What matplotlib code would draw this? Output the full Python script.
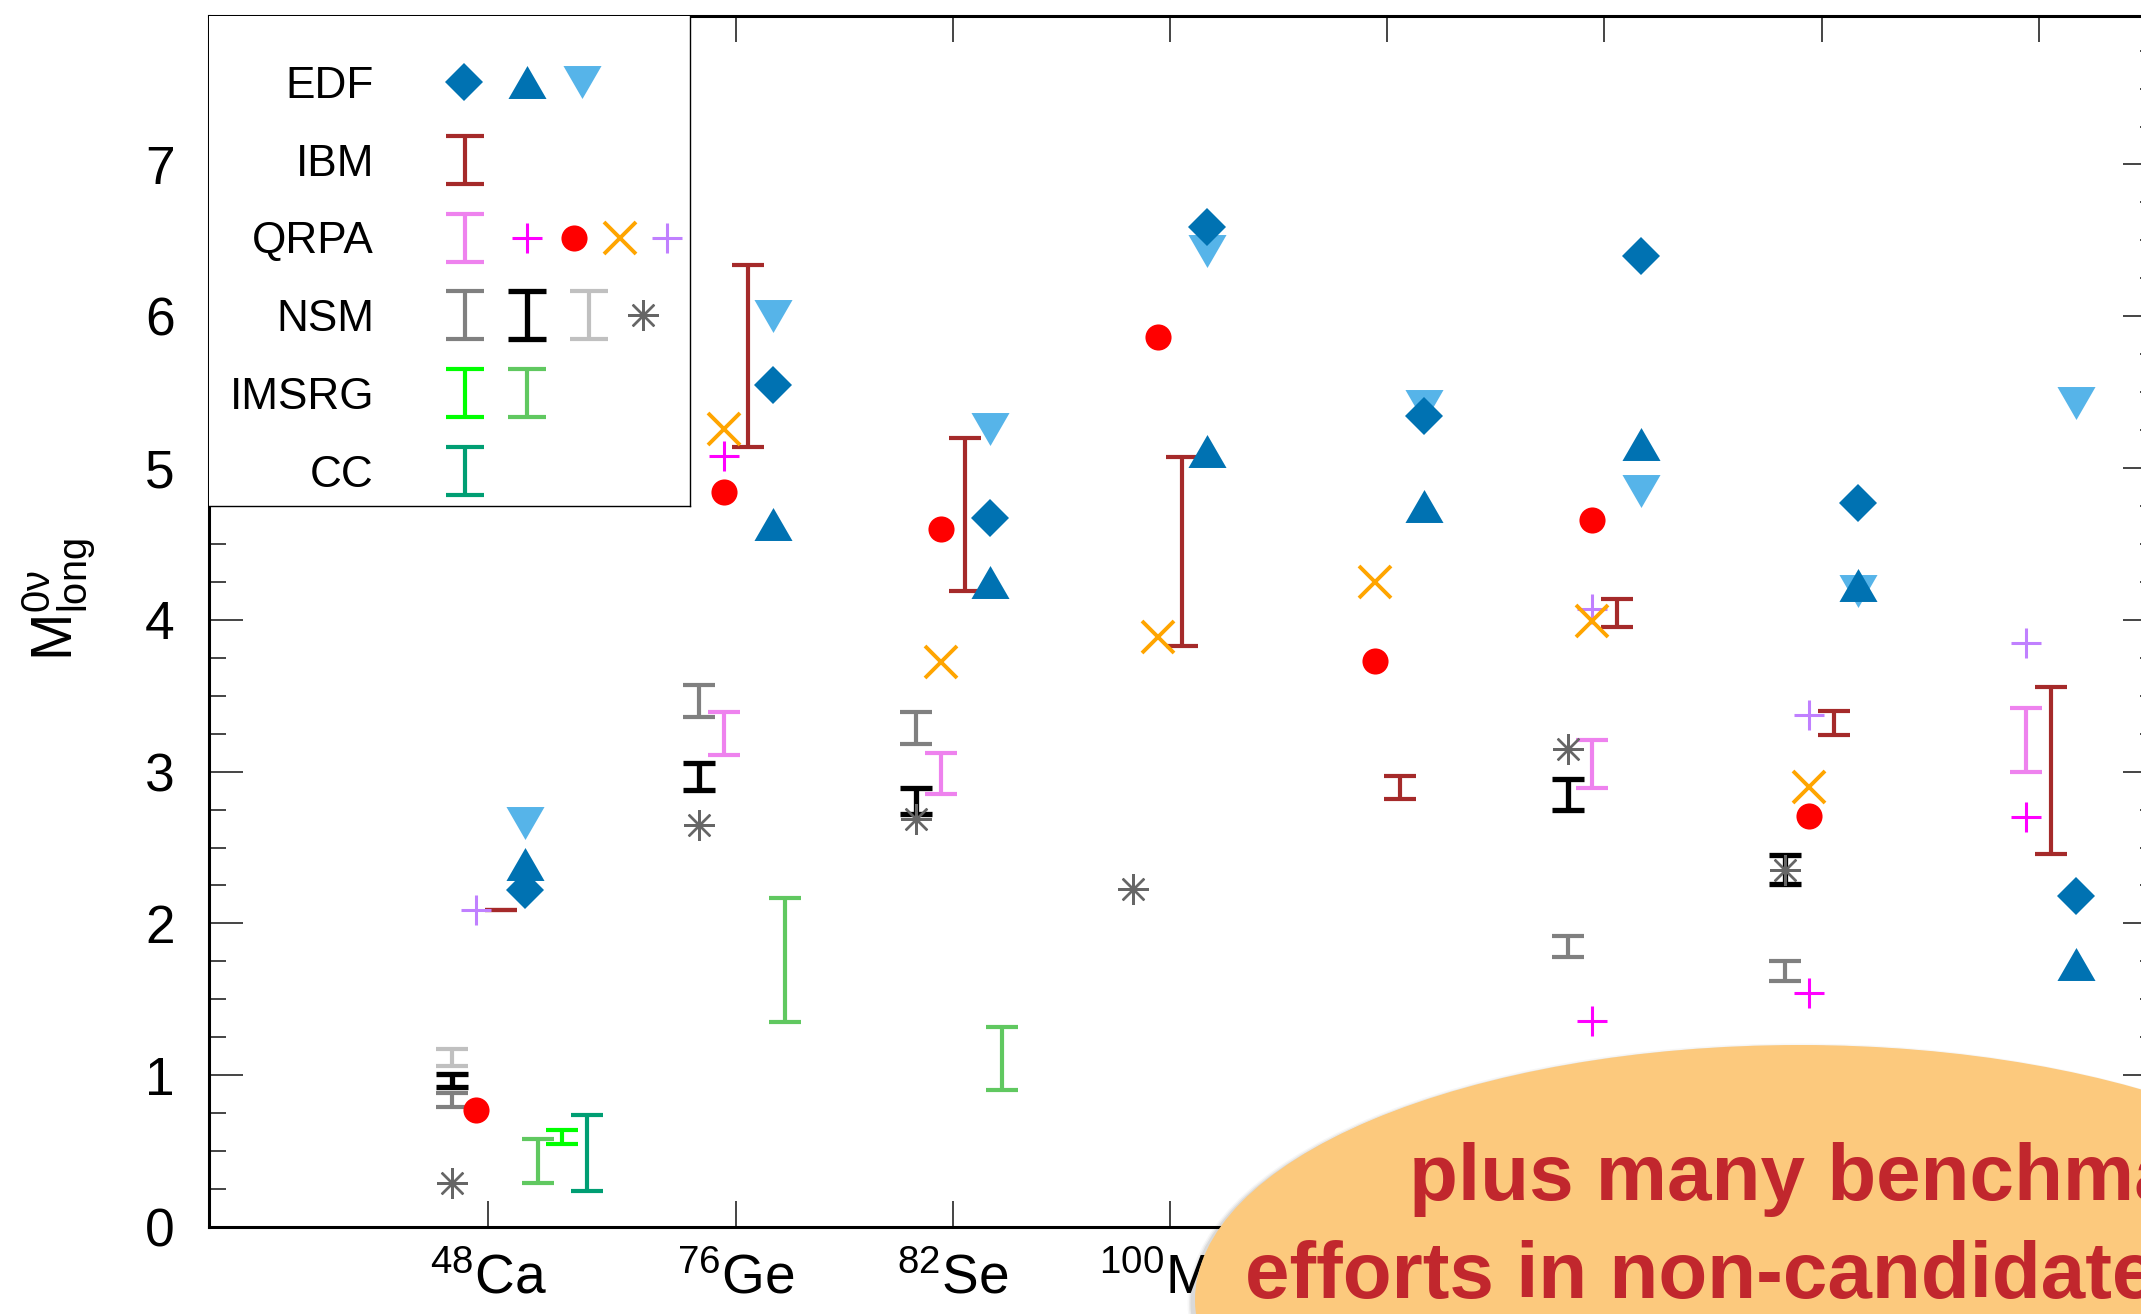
import matplotlib

matplotlib.use("Agg")
import matplotlib.pyplot as plt
import numpy as np
from matplotlib import font_manager
from matplotlib.patches import Ellipse
from matplotlib.ticker import MultipleLocator

nan = np.nan

# isotopes on the x axis
MASS_NUMBERS = ["48", "76", "82", "100", "116", "130", "136", "150"]
ELEMENTS = ["Ca", "Ge", "Se", "Mo", "Cd", "Te", "Xe", "Nd"]

# EDF (three variants)
EDF_DIAMOND = [2.22, 5.55, 4.67, 6.59, 5.34, 6.40, 4.77, 2.18]
EDF_UP = [2.39, 4.63, 4.25, 5.11, 4.75, 5.16, 4.23, 1.73]
EDF_DOWN = [2.66, 6.00, 5.26, 6.43, 5.41, 4.85, 4.19, 5.43]

# IBM ranges
IBM_LO = [2.09, 5.14, 4.19, 3.83, 2.82, 3.95, 3.24, 2.46]
IBM_HI = [2.09, 6.34, 5.20, 5.07, 2.97, 4.14, 3.40, 3.56]

# QRPA
QRPA_LO = [nan, 3.11, 2.85, nan, nan, 2.89, 0.95, 3.00]
QRPA_HI = [nan, 3.39, 3.12, nan, nan, 3.21, 1.18, 3.42]
QRPA_PLUS = [nan, 5.08, nan, nan, nan, 1.36, 1.54, 2.70]
QRPA_DOT = [0.77, 4.84, 4.60, 5.86, 3.73, 4.66, 2.71, nan]
QRPA_CROSS = [nan, 5.26, 3.72, 3.89, 4.25, 3.99, 2.90, nan]
QRPA_PLUS2 = [2.09, nan, nan, nan, nan, 4.07, 3.37, 3.85]

# NSM
NSM_GRAY_LO = [0.79, 3.36, 3.18, nan, nan, 1.78, 1.62, nan]
NSM_GRAY_HI = [0.88, 3.57, 3.39, nan, nan, 1.92, 1.75, nan]
NSM_BLACK_LO = [0.92, 2.88, 2.72, nan, nan, 2.75, 2.26, nan]
NSM_BLACK_HI = [1.01, 3.06, 2.89, nan, nan, 2.95, 2.45, nan]
NSM_LIGHT_LO = [1.06, nan, nan, nan, nan, nan, nan, nan]
NSM_LIGHT_HI = [1.17, nan, nan, nan, nan, nan, nan, nan]
NSM_STAR = [0.29, 2.65, 2.69, 2.23, nan, 3.15, 2.35, nan]

# IMSRG and CC
IMSRG_A_LO = [0.55, nan, nan, nan, nan, nan, nan, nan]
IMSRG_A_HI = [0.64, nan, nan, nan, nan, nan, nan, nan]
IMSRG_B_LO = [0.29, 1.35, 0.90, nan, nan, nan, nan, nan]
IMSRG_B_HI = [0.58, 2.17, 1.32, nan, nan, nan, nan, nan]
CC_LO = [0.24, nan, nan, nan, nan, nan, nan, nan]
CC_HI = [0.74, nan, nan, nan, nan, nan, nan, nan]

# layout
ISO_X = np.array([0.86, 2, 3, 4, 5, 6, 7, 8])
STEP = 0.0566
W, H, DPI = 2141, 1314, 200

EDF_DARK = "#0072b2"
EDF_LIGHT = "#56b4e9"
IBM_C = "#a52a2a"
QRPA_BAR_C = "#ee82ee"
MAGENTA = "#ff00ff"
RED = "#ff0000"
ORANGE = "#ffa500"
PURPLE = "#c080ff"
NSM_GRAY = "#808080"
NSM_LIGHT = "#c0c0c0"
STAR_C = "#666666"
IMSRG_A_C = "#00ff00"
IMSRG_B_C = "#60c860"
CC_C = "#009e73"

TRI_UP = [(0, 0.433), (-0.5, -0.433), (0.5, -0.433)]
TRI_DOWN = [(0, -0.433), (-0.5, 0.433), (0.5, 0.433)]
STAR = (8, 2, 0)

names = {f.name for f in font_manager.fontManager.ttflist}
BASE_FONT = "Liberation Sans" if "Liberation Sans" in names else "DejaVu Sans"
plt.rcParams["font.family"] = [BASE_FONT, "DejaVu Sans"]
plt.rcParams["mathtext.fontset"] = "custom"
plt.rcParams["mathtext.rm"] = BASE_FONT
plt.rcParams["mathtext.it"] = BASE_FONT + ":italic"
plt.rcParams["mathtext.bf"] = BASE_FONT + ":bold"


def draw_range(ax, slot, lo, hi, color, lw=1.5, capsize=5.8, zorder=3):
    lo = np.asarray(lo, dtype=float)
    hi = np.asarray(hi, dtype=float)
    keep = ~np.isnan(lo)
    x = ISO_X[keep] + slot * STEP
    mid = 0.5 * (lo[keep] + hi[keep])
    err = 0.5 * (hi[keep] - lo[keep])
    ax.errorbar(x, mid, yerr=err, fmt="none", ecolor=color, elinewidth=lw,
                capsize=capsize, capthick=lw, zorder=zorder)


def draw_points(ax, slot, vals, marker, color, ms, mew=0.0, zorder=4):
    vals = np.asarray(vals, dtype=float)
    keep = ~np.isnan(vals)
    x = ISO_X[keep] + slot * STEP
    ax.plot(x, vals[keep], linestyle="none", marker=marker, ms=ms, color=color,
            mew=mew, zorder=zorder)


fig = plt.figure(figsize=(W / DPI, H / DPI), dpi=DPI)
ax = fig.add_axes([209 / W, 87 / H, (2157 - 209) / W, (1227 - 15.7) / H])
ax.set_xlim(-0.427, 8.545)
ax.set_ylim(0, 7.98)

# NSM (slot -3)
draw_range(ax, -3, NSM_GRAY_LO, NSM_GRAY_HI, NSM_GRAY)
draw_range(ax, -3, NSM_LIGHT_LO, NSM_LIGHT_HI, NSM_LIGHT)
draw_range(ax, -3, NSM_BLACK_LO, NSM_BLACK_HI, "black", lw=1.9)
draw_points(ax, -3, NSM_STAR, STAR, STAR_C, 11.0, mew=0.85, zorder=5)

# QRPA (slot -1)
draw_range(ax, -1, QRPA_LO, QRPA_HI, QRPA_BAR_C)
draw_points(ax, -1, QRPA_DOT, "o", RED, 9.4)
draw_points(ax, -1, QRPA_PLUS, "+", MAGENTA, 10.8, mew=1.1)
draw_points(ax, -1, QRPA_PLUS2, "+", PURPLE, 10.8, mew=1.1)
draw_points(ax, -1, QRPA_CROSS, "x", ORANGE, 11.5, mew=1.4)

# IBM (slot +1)
draw_range(ax, 1, IBM_LO, IBM_HI, IBM_C)

# EDF (slot +3)
draw_points(ax, 3, EDF_DOWN, TRI_DOWN, EDF_LIGHT, 13.7)
draw_points(ax, 3, EDF_DIAMOND, "D", EDF_DARK, 9.7)
draw_points(ax, 3, EDF_UP, TRI_UP, EDF_DARK, 13.7)

# IMSRG and CC
draw_range(ax, 4, IMSRG_B_LO, IMSRG_B_HI, IMSRG_B_C)
draw_range(ax, 6, IMSRG_A_LO, IMSRG_A_HI, IMSRG_A_C)
draw_range(ax, 8, CC_LO, CC_HI, CC_C)

ax.set_xticks(ISO_X)
ax.set_xticklabels([rf"$^{{{m}}}$" + e for m, e in zip(MASS_NUMBERS, ELEMENTS)])
ax.yaxis.set_major_locator(MultipleLocator(1))
ax.yaxis.set_minor_locator(MultipleLocator(0.25))
ax.tick_params(axis="x", which="both", direction="in", length=9.4, width=0.7,
               color="#444444", top=True, pad=9.5, labelsize=19.8)
ax.tick_params(axis="y", which="major", direction="in", length=12.4, width=0.7,
               color="#444444", right=True, pad=12.4, labelsize=19.2)
ax.tick_params(axis="y", which="minor", direction="in", length=6.2, width=0.7,
               color="#444444", right=True)
for spine in ax.spines.values():
    spine.set_linewidth(1.1)

fig.text(59 / W, 1 - 600 / H, r"$\mathrm{M^{0\nu}_{long}}$", rotation=90,
         fontsize=20.5, ha="center", va="center")

# legend box, drawn in pixel coordinates
LEG_X0, LEG_X1, LEG_Y0, LEG_Y1 = 209, 690, 16, 505.5
leg = fig.add_axes([LEG_X0 / W, 1 - LEG_Y1 / H, (LEG_X1 - LEG_X0) / W, (LEG_Y1 - LEG_Y0) / H],
                   zorder=5)
leg.set_xlim(LEG_X0, LEG_X1)
leg.set_ylim(LEG_Y1, LEG_Y0)
leg.set_xticks([])
leg.set_yticks([])
for side, spine in leg.spines.items():
    spine.set_linewidth(0.5)
    spine.set_visible(side in ("right", "bottom"))

ROW_Y0, ROW_STEP = 82, 77.8
BAR_HALF = 24


def leg_bar(x, y, color, lw=1.5):
    leg.errorbar([x], [y], yerr=[BAR_HALF], fmt="none", ecolor=color, elinewidth=lw,
                 capsize=6.8, capthick=lw)


def leg_pt(x, y, marker, color, ms, mew=0.0):
    leg.plot([x], [y], linestyle="none", marker=marker, ms=ms, color=color, mew=mew)


legend_rows = [
    ("EDF", [("pt", 464, "D", EDF_DARK, 9.7, 0), ("pt", 527, TRI_UP, EDF_DARK, 13.7, 0),
             ("pt", 582, TRI_DOWN, EDF_LIGHT, 13.7, 0)]),
    ("IBM", [("bar", 465, IBM_C, 1.5)]),
    ("QRPA", [("bar", 465, QRPA_BAR_C, 1.5), ("pt", 527, "+", MAGENTA, 10.8, 1.1),
              ("pt", 574, "o", RED, 9.4, 0), ("pt", 620, "x", ORANGE, 11.5, 1.4),
              ("pt", 667, "+", PURPLE, 10.8, 1.1)]),
    ("NSM", [("bar", 465, NSM_GRAY, 1.5), ("bar", 527, "black", 1.9),
             ("bar", 589, NSM_LIGHT, 1.5), ("pt", 643, STAR, STAR_C, 11.0, 0.85)]),
    ("IMSRG", [("bar", 465, IMSRG_A_C, 1.5), ("bar", 527, IMSRG_B_C, 1.5)]),
    ("CC", [("bar", 465, CC_C, 1.5)]),
]

for i, (label, items) in enumerate(legend_rows):
    y = ROW_Y0 + i * ROW_STEP
    leg.text(374, y + 15.8, label, fontsize=15.9, ha="right", va="baseline")
    for item in items:
        if item[0] == "bar":
            leg_bar(item[1], y, item[2], item[3])
        else:
            leg_pt(item[1], y, item[2], item[3], item[4], item[5])

# highlighted note in the lower right corner, with a soft shadow
for k, alpha in enumerate([0.03, 0.05, 0.07]):
    grow = (3 - k) * 3
    fig.add_artist(Ellipse(((1800 - 3) / W, 1 - (1300 + 3) / H), width=(1210 + grow) / W,
                           height=(510 + grow) / H, transform=fig.transFigure,
                           facecolor="black", edgecolor="none", alpha=alpha, zorder=9))
fig.add_artist(Ellipse((1800 / W, 1 - 1300 / H), width=1210 / W, height=510 / H,
                       transform=fig.transFigure, facecolor="#fcc97d", edgecolor="none",
                       zorder=10))
NOTE_C = "#c1272d"
fig.text(1409 / W, 1 - 1200 / H, "plus many benchmark", fontsize=28.8, fontweight="bold",
         color=NOTE_C, ha="left", va="baseline", zorder=11)
fig.text(1245 / W, 1 - 1298 / H, "efforts in non-candidates", fontsize=28.8,
         fontweight="bold", color=NOTE_C, ha="left", va="baseline", zorder=11)

fig.savefig("out.png", dpi=DPI)
